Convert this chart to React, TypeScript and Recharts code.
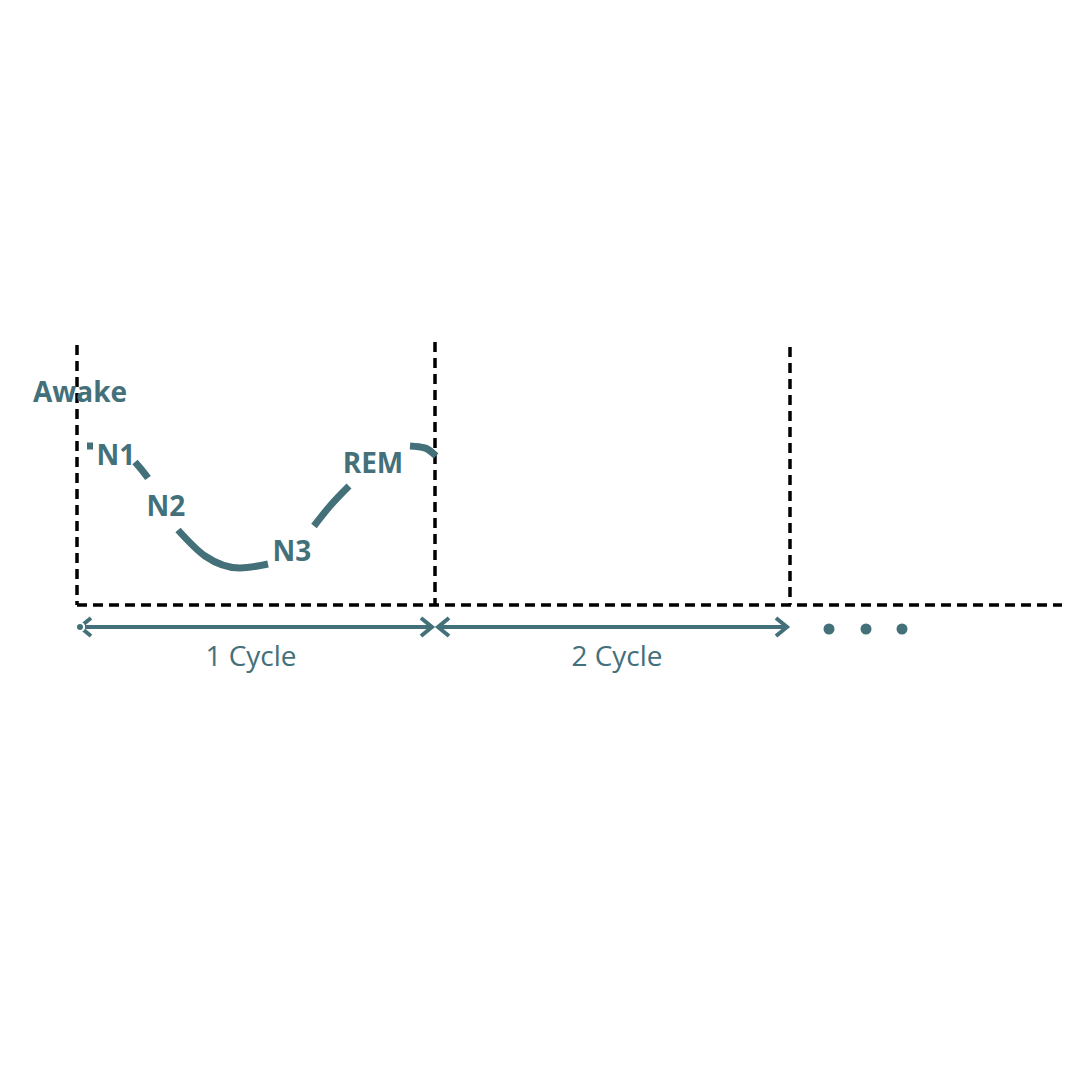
import { LineChart, Line, XAxis, YAxis, ReferenceLine, Scatter } from 'recharts'

const TEAL = '#44707a'

// sleep curve pieces (x, y in picture units)
const n1Stub = [{ x: 87, y: 446 }, { x: 93, y: 446 }]
const n1ToN2 = [{ x: 135, y: 462 }, { x: 141, y: 469 }, { x: 148, y: 478 }]
const n2ToN3 = [{ x: 178, y: 530 }, { x: 205, y: 556 }, { x: 240, y: 568 }, { x: 268, y: 564 }]
const n3ToRem = [{ x: 314, y: 526 }, { x: 330, y: 506 }, { x: 349, y: 486 }]
const remTail = [{ x: 410, y: 446 }, { x: 425, y: 448 }, { x: 436, y: 456 }]
const curves = [n1Stub, n1ToN2, n2ToN3, n3ToRem, remTail]

const stageLabels = [
  { x: 80, y: 391, text: 'Awake' },
  { x: 116, y: 454, text: 'N1' },
  { x: 166, y: 505, text: 'N2' },
  { x: 292, y: 550, text: 'N3' },
  { x: 373, y: 462, text: 'REM' },
]
const cycleLabels = [
  { x: 251, y: 655, text: '1 Cycle' },
  { x: 617, y: 655, text: '2 Cycle' },
]
const ellipsis = [{ x: 829, y: 629 }, { x: 866, y: 629 }, { x: 902, y: 629 }]

// cycle boundaries
const boundaryX = [77, 435, 790]
const boundaryTop = [345, 342, 347]
const baseY = 605
const baseEnd = 1062

// cycle arrows
const arrows = [{ from: 80, to: 432 }, { from: 438, to: 787 }]
const arrowY = 627

function chevron(x: number, dir: number) {
  return [{ x: x + dir * 11, y: arrowY - 9 }, { x, y: arrowY }, { x: x + dir * 11, y: arrowY + 9 }]
}

const textShape = (bold: boolean) => (p: any) => (
  <text x={p.cx} y={p.cy} textAnchor="middle" dominantBaseline="central"
    fill={TEAL} fontSize={28} fontWeight={bold ? 700 : 400}
    fontFamily="'Open Sans', sans-serif">{p.payload.text}</text>
)

export default function App() {
  return (
    <div style={{ position: 'absolute', left: 0, top: 0, width: 1080, height: 1080, background: '#fff' }}>
      <LineChart width={1080} height={1080} margin={{ top: 0, right: 0, bottom: 0, left: 0 }}>
        <XAxis type="number" dataKey="x" domain={[0, 1080]} hide />
        <YAxis type="number" dataKey="y" domain={[0, 1080]} reversed hide />
        {boundaryX.map((x, i) => (
          <ReferenceLine key={'b' + i} segment={[{ x, y: boundaryTop[i] }, { x, y: baseY }]}
            stroke="#000" strokeWidth={3.5} strokeDasharray="10 6" />
        ))}
        <ReferenceLine segment={[{ x: 77, y: baseY }, { x: baseEnd, y: baseY }]}
          stroke="#000" strokeWidth={3.5} strokeDasharray="10 6" />
        {curves.map((d, i) => (
          <Line key={'c' + i} data={d} dataKey="y" type="monotone" stroke={TEAL}
            strokeWidth={7} dot={false} isAnimationActive={false} />
        ))}
        {arrows.map((a, i) => (
          <Line key={'a' + i} data={[{ x: a.from, y: arrowY }, { x: a.to, y: arrowY }]} dataKey="y"
            stroke={TEAL} strokeWidth={4} dot={false} isAnimationActive={false} />
        ))}
        {arrows.flatMap((a, i) => [
          <Line key={'l' + i} data={chevron(a.from, 1)} dataKey="y" type="linear" stroke={TEAL}
            strokeWidth={4} dot={false} isAnimationActive={false} />,
          <Line key={'r' + i} data={chevron(a.to, -1)} dataKey="y" type="linear" stroke={TEAL}
            strokeWidth={4} dot={false} isAnimationActive={false} />,
        ])}
        <Scatter data={ellipsis} dataKey="y" fill={TEAL} isAnimationActive={false}
          shape={(p: any) => <circle cx={p.cx} cy={p.cy} r={5.5} fill={TEAL} />} />
        <Scatter data={stageLabels} dataKey="y" isAnimationActive={false} shape={textShape(true)} />
        <Scatter data={cycleLabels} dataKey="y" isAnimationActive={false} shape={textShape(false)} />
      </LineChart>
    </div>
  )
}
